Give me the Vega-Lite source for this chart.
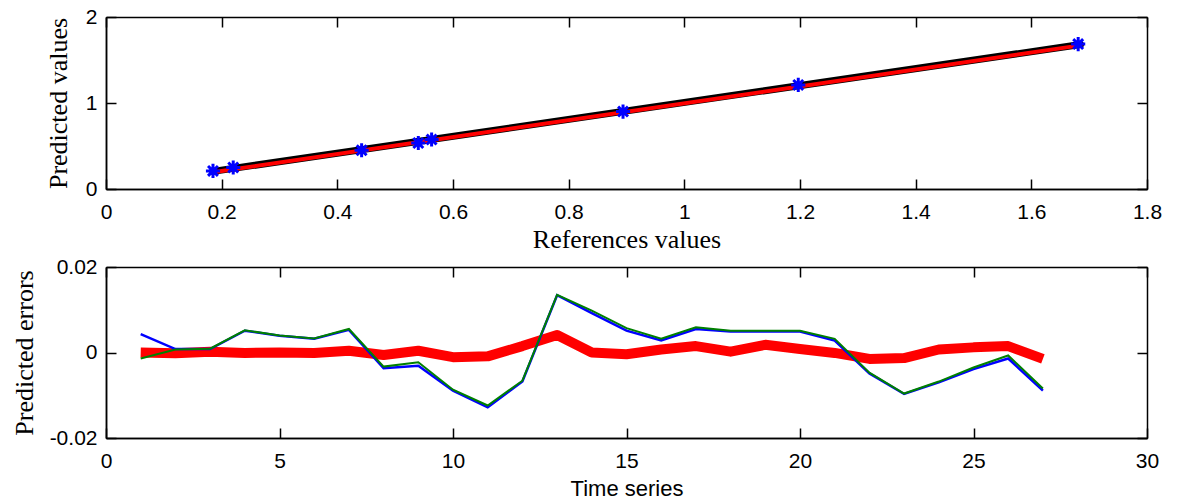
{
  "$schema": "https://vega.github.io/schema/vega-lite/v6.json",
  "background": "white",
  "padding": {"left": 11, "top": 6, "right": 5, "bottom": 2},
  "spacing": 4,
  "config": {
    "view": {"stroke": null},
    "axis": {
      "grid": false,
      "labelFlush": false,
      "labelOverlap": false,
      "domainColor": "black",
      "domainWidth": 1.5,
      "tickColor": "black",
      "tickWidth": 1.5,
      "tickSize": 10,
      "labelFont": "Liberation Sans",
      "labelFontSize": 21,
      "labelColor": "black",
      "titleColor": "black",
      "titleFontWeight": "normal"
    }
  },
  "datasets": {
    "pts": [
      {"ref": 0.185, "pred": 0.21},
      {"ref": 0.22, "pred": 0.25},
      {"ref": 0.442, "pred": 0.45},
      {"ref": 0.54, "pred": 0.535},
      {"ref": 0.563, "pred": 0.575},
      {"ref": 0.894, "pred": 0.9},
      {"ref": 1.197, "pred": 1.21},
      {"ref": 1.681, "pred": 1.685}
    ],
    "fit": [
      {"ref": 0.185, "yb": 0.205, "yr": 0.195},
      {"ref": 1.685, "yb": 1.68, "yr": 1.67}
    ],
    "red": [
      {"t": 1, "e": 0.0}, {"t": 2, "e": -0.0002}, {"t": 3, "e": 0.0002}, {"t": 4, "e": -0.0001},
      {"t": 5, "e": 0.0}, {"t": 6, "e": -0.0001}, {"t": 7, "e": 0.0004}, {"t": 8, "e": -0.0006},
      {"t": 9, "e": 0.0004}, {"t": 10, "e": -0.0011}, {"t": 11, "e": -0.0009}, {"t": 12, "e": 0.0015},
      {"t": 13, "e": 0.0041}, {"t": 14, "e": 0.0}, {"t": 15, "e": -0.0004}, {"t": 16, "e": 0.0007},
      {"t": 17, "e": 0.0015}, {"t": 18, "e": 0.0002}, {"t": 19, "e": 0.0018}, {"t": 20, "e": 0.0008},
      {"t": 21, "e": -0.0001}, {"t": 22, "e": -0.0015}, {"t": 23, "e": -0.0013}, {"t": 24, "e": 0.0007},
      {"t": 25, "e": 0.0012}, {"t": 26, "e": 0.0015}, {"t": 27, "e": -0.0015}
    ],
    "blue": [
      {"t": 1, "e": 0.0043}, {"t": 2, "e": 0.0008}, {"t": 3, "e": 0.0008}, {"t": 4, "e": 0.0051},
      {"t": 5, "e": 0.0039}, {"t": 6, "e": 0.0032}, {"t": 7, "e": 0.0053}, {"t": 8, "e": -0.0037},
      {"t": 9, "e": -0.0031}, {"t": 10, "e": -0.0089}, {"t": 11, "e": -0.0128}, {"t": 12, "e": -0.0068},
      {"t": 13, "e": 0.0134}, {"t": 14, "e": 0.0092}, {"t": 15, "e": 0.0051}, {"t": 16, "e": 0.0028},
      {"t": 17, "e": 0.0055}, {"t": 18, "e": 0.0049}, {"t": 19, "e": 0.0049}, {"t": 20, "e": 0.0049},
      {"t": 21, "e": 0.0028}, {"t": 22, "e": -0.0049}, {"t": 23, "e": -0.0097}, {"t": 24, "e": -0.007},
      {"t": 25, "e": -0.0039}, {"t": 26, "e": -0.0014}, {"t": 27, "e": -0.0089}
    ],
    "green": [
      {"t": 1, "e": -0.0014}, {"t": 2, "e": 0.0007}, {"t": 3, "e": 0.0009}, {"t": 4, "e": 0.0052},
      {"t": 5, "e": 0.004}, {"t": 6, "e": 0.0033}, {"t": 7, "e": 0.0055}, {"t": 8, "e": -0.0033},
      {"t": 9, "e": -0.0023}, {"t": 10, "e": -0.0087}, {"t": 11, "e": -0.0124}, {"t": 12, "e": -0.0066},
      {"t": 13, "e": 0.0135}, {"t": 14, "e": 0.0098}, {"t": 15, "e": 0.0057}, {"t": 16, "e": 0.0032},
      {"t": 17, "e": 0.0059}, {"t": 18, "e": 0.0051}, {"t": 19, "e": 0.0051}, {"t": 20, "e": 0.0051},
      {"t": 21, "e": 0.0032}, {"t": 22, "e": -0.0047}, {"t": 23, "e": -0.0096}, {"t": 24, "e": -0.0068},
      {"t": 25, "e": -0.0035}, {"t": 26, "e": -0.0007}, {"t": 27, "e": -0.0084}
    ]
  },
  "vconcat": [
    {
      "width": 1041,
      "height": 172,
      "layer": [
        {
          "data": {"name": "fit"},
          "mark": {"type": "line", "color": "black", "strokeWidth": 7, "strokeCap": "round"},
          "encoding": {
            "x": {"field": "ref", "type": "quantitative", "scale": {"domain": [0, 1.8], "nice": false, "zero": false},
              "axis": {"orient": "bottom", "ticks": false, "values": [0, 0.2, 0.4, 0.6, 0.8, 1, 1.2, 1.4, 1.6, 1.8], "labelExpr": "format(datum.value, '~g')", "labelPadding": 12, "title": "References values", "titleFont": "Liberation Serif", "titleFontSize": 26, "titlePadding": 4}},
            "y": {"field": "yb", "type": "quantitative", "scale": {"domain": [0, 2], "nice": false, "zero": false},
              "axis": {"orient": "left", "ticks": false, "values": [0, 1, 2], "labelExpr": "format(datum.value, '~g')", "labelPadding": 9, "title": "Predicted values", "titleFont": "Liberation Serif", "titleFontSize": 26, "titlePadding": 14}}
          }
        },
        {
          "data": {"name": "fit"},
          "mark": {"type": "line", "color": "red", "strokeWidth": 4, "strokeCap": "round"},
          "encoding": {
            "x": {"field": "ref", "type": "quantitative", "axis": {"orient": "top", "offset": -172, "values": [0, 0.2, 0.4, 0.6, 0.8, 1, 1.2, 1.4, 1.6, 1.8], "labels": false, "title": null}},
            "y": {"field": "yr", "type": "quantitative", "axis": {"orient": "right", "offset": -1041, "values": [0, 1, 2], "labels": false, "title": null}}
          }
        },
        {
          "data": {"name": "pts"},
          "mark": {"type": "point", "shape": "M-1,0L1,0M0,-1L0,1M-0.7,-0.7L0.7,0.7M-0.7,0.7L0.7,-0.7", "filled": false, "stroke": "blue", "strokeWidth": 3, "size": 200, "opacity": 1},
          "encoding": {
            "x": {"field": "ref", "type": "quantitative", "axis": {"orient": "bottom", "offset": -172, "values": [0, 0.2, 0.4, 0.6, 0.8, 1, 1.2, 1.4, 1.6, 1.8], "labels": false, "title": null}},
            "y": {"field": "pred", "type": "quantitative", "axis": {"orient": "left", "offset": -1041, "values": [0, 1, 2], "labels": false, "title": null}}
          }
        }
      ],
      "resolve": {"axis": {"x": "independent", "y": "independent"}}
    },
    {
      "width": 1041,
      "height": 171,
      "layer": [
        {
          "data": {"name": "red"},
          "mark": {"type": "line", "color": "red", "strokeWidth": 10, "strokeJoin": "round"},
          "encoding": {
            "x": {"field": "t", "type": "quantitative", "scale": {"domain": [0, 30], "nice": false, "zero": false},
              "axis": {"orient": "bottom", "ticks": false, "values": [0, 5, 10, 15, 20, 25, 30], "labelPadding": 12, "title": "Time series", "titleFont": "Liberation Sans", "titleFontSize": 22, "titlePadding": 7}},
            "y": {"field": "e", "type": "quantitative", "scale": {"domain": [-0.02, 0.02], "nice": false, "zero": false},
              "axis": {"orient": "left", "ticks": false, "values": [-0.02, 0, 0.02], "labelExpr": "datum.value < 0 ? '-' + format(-datum.value, '~g') : format(datum.value, '~g')", "labelPadding": 9, "title": "Predicted errors", "titleFont": "Liberation Serif", "titleFontSize": 26, "titlePadding": 12}}
          }
        },
        {
          "data": {"name": "blue"},
          "mark": {"type": "line", "color": "blue", "strokeWidth": 2.5},
          "encoding": {
            "x": {"field": "t", "type": "quantitative", "axis": {"orient": "top", "offset": -171, "values": [0, 5, 10, 15, 20, 25, 30], "labels": false, "title": null}},
            "y": {"field": "e", "type": "quantitative", "axis": {"orient": "right", "offset": -1041, "values": [-0.02, 0, 0.02], "labels": false, "title": null}}
          }
        },
        {
          "data": {"name": "green"},
          "mark": {"type": "line", "color": "#008000", "strokeWidth": 2},
          "encoding": {
            "x": {"field": "t", "type": "quantitative", "axis": {"orient": "bottom", "offset": -171, "values": [0, 5, 10, 15, 20, 25, 30], "labels": false, "title": null}},
            "y": {"field": "e", "type": "quantitative", "axis": {"orient": "left", "offset": -1041, "values": [-0.02, 0, 0.02], "labels": false, "title": null}}
          }
        }
      ],
      "resolve": {"axis": {"x": "independent", "y": "independent"}}
    }
  ]
}
